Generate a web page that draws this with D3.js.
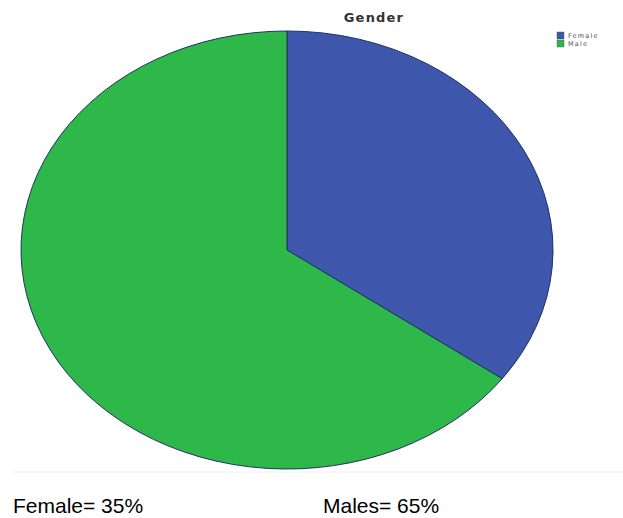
<!DOCTYPE html>
<html>
<head>
<meta charset="utf-8">
<script src="https://cdn.jsdelivr.net/npm/d3@7"></script>
<style>
  body { margin: 0; background: #fff; }
  svg { display: block; }
</style>
</head>
<body>
<div id="chart"></div>
<script>
// chart data
const categories = ['Female', 'Male'];
const values = [35, 65];
const colors = ['#3e56ab', '#2fb84a'];
const notes = ['Female= 35%', 'Males= 65%'];
const title = 'Gender';

const width = 623, height = 518;
const cx = 287, cy = 250, rx = 266, ry = 219;

const svg = d3.select('#chart').append('svg')
    .attr('width', width)
    .attr('height', height);

// faint frame line under the pie
svg.append('line')
    .attr('x1', 12).attr('x2', width)
    .attr('y1', 472).attr('y2', 472)
    .attr('stroke', '#f0f0f0')
    .attr('stroke-width', 1);

const pie = d3.pie().sort(null).value(d => d);
const arc = d3.arc().innerRadius(0).outerRadius(rx);

const g = svg.append('g')
    .attr('transform', 'translate(' + cx + ',' + cy + ') scale(1,' + (ry / rx) + ')');

g.selectAll('path')
    .data(pie(values))
    .enter().append('path')
    .attr('d', arc)
    .attr('fill', (d, i) => colors[i])
    .attr('stroke', '#1e3263')
    .attr('stroke-width', 1)
    .attr('vector-effect', 'non-scaling-stroke');

// title
svg.append('text')
    .attr('x', 374)
    .attr('y', 22)
    .attr('text-anchor', 'middle')
    .style('font-family', '"DejaVu Sans", sans-serif')
    .style('font-weight', 'bold')
    .style('font-size', '13px')
    .style('letter-spacing', '1.2px')
    .style('fill', '#333')
    .text(title);

// legend
const lg = svg.append('g').attr('transform', 'translate(557,32)');
const item = lg.selectAll('g')
    .data(categories)
    .enter().append('g')
    .attr('transform', (d, i) => 'translate(0,' + (i * 8) + ')');
item.append('rect')
    .attr('width', 7).attr('height', 7)
    .attr('fill', (d, i) => colors[i])
    .attr('stroke', '#555')
    .attr('stroke-width', 0.4);
item.append('text')
    .attr('x', 11).attr('y', 6)
    .style('font-family', '"DejaVu Sans", sans-serif')
    .style('font-size', '6.5px')
    .style('letter-spacing', '1.2px')
    .style('fill', '#555')
    .text(d => d);

// notes below the chart
const noteX = d3.scaleOrdinal().domain(notes).range([13, 323]);
svg.selectAll('text.note')
    .data(notes)
    .enter().append('text')
    .attr('class', 'note')
    .attr('x', d => noteX(d))
    .attr('y', 513)
    .style('font-family', '"Liberation Sans", Arial, sans-serif')
    .style('font-size', '21px')
    .style('fill', '#000')
    .text(d => d);
</script>
</body>
</html>
